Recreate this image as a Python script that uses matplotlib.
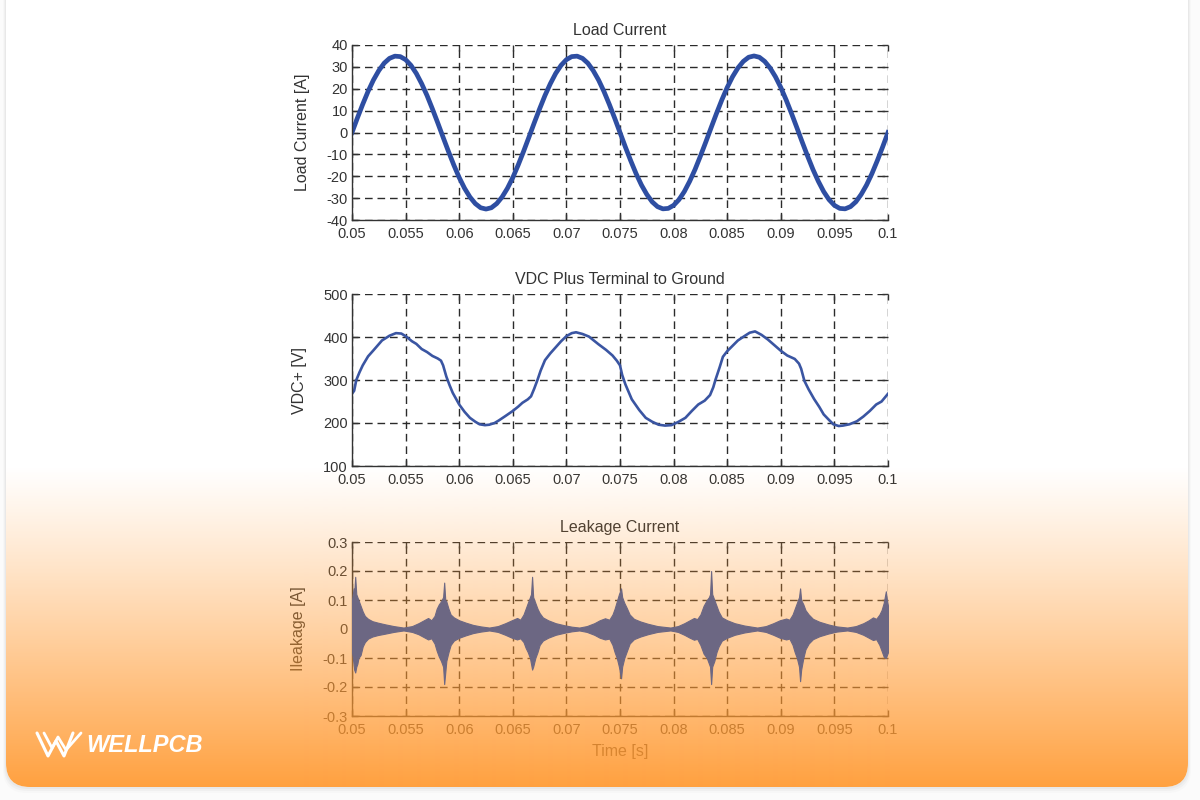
import numpy as np
import matplotlib.pyplot as plt
from matplotlib.patches import FancyBboxPatch

plt.rcParams['font.family'] = ['Liberation Sans', 'DejaVu Sans']

# ---- values ----
TIME_TICKS = [0.05, 0.055, 0.06, 0.065, 0.07, 0.075, 0.08, 0.085, 0.09, 0.095, 0.1]
TIME_LABELS = ['0.05', '0.055', '0.06', '0.065', '0.07', '0.075', '0.08', '0.085', '0.09', '0.095', '0.1']

# load current, one sample every 0.5 ms
load_t = np.round(np.arange(0.050, 0.10025, 0.0005), 4)
load_a = [0, 6.6, 12.9, 18.8, 24.0, 28.3, 31.7, 33.9, 34.9, 34.7,
          33.3, 30.7, 27.0, 22.3, 16.9, 10.8, 4.4, -2.2, -8.7, -14.9,
          -20.6, -25.5, -29.5, -32.5, -34.4, -35.0, -34.4, -32.5, -29.5, -25.5,
          -20.6, -14.9, -8.7, -2.2, 4.4, 10.8, 16.9, 22.3, 27.0, 30.7,
          33.3, 34.7, 34.9, 33.9, 31.7, 28.3, 24.0, 18.8, 12.9, 6.6,
          0, -6.6, -12.9, -18.8, -24.0, -28.3, -31.7, -33.9, -34.9, -34.7,
          -33.3, -30.7, -27.0, -22.3, -16.9, -10.8, -4.4, 2.2, 8.7, 14.9,
          20.6, 25.5, 29.5, 32.5, 34.4, 35.0, 34.4, 32.5, 29.5, 25.5,
          20.6, 14.9, 8.7, 2.2, -4.4, -10.8, -16.9, -22.3, -27.0, -30.7,
          -33.3, -34.7, -34.9, -33.9, -31.7, -28.3, -24.0, -18.8, -12.9, -6.6,
          0]
load_ticks = [-40, -30, -20, -10, 0, 10, 20, 30, 40]

# VDC plus terminal to ground
vdc_t = [0.0500, 0.0502, 0.0504, 0.0507, 0.0510, 0.0515, 0.0520, 0.0528, 0.0535, 0.0541,
         0.0546, 0.0550, 0.0556, 0.0560, 0.0565, 0.0570, 0.0575, 0.0580, 0.0583, 0.0585,
         0.0588, 0.0591, 0.0594, 0.0600, 0.0605, 0.0610, 0.0615, 0.0619, 0.0624, 0.0628,
         0.0633, 0.0637, 0.0643, 0.0650, 0.0655, 0.0659, 0.0664, 0.0667, 0.0670, 0.0673,
         0.0676, 0.0680, 0.0685, 0.0690, 0.0695, 0.0700, 0.0705, 0.0709, 0.0715, 0.0721,
         0.0725, 0.0730, 0.0737, 0.0743, 0.0747, 0.0750, 0.0752, 0.0755, 0.0761, 0.0768,
         0.0774, 0.0780, 0.0786, 0.0792, 0.0798, 0.0804, 0.0811, 0.0817, 0.0823, 0.0829,
         0.0834, 0.0837, 0.0839, 0.0843, 0.0846, 0.0850, 0.0854, 0.0860, 0.0866, 0.0871,
         0.0876, 0.0882, 0.0888, 0.0894, 0.0900, 0.0906, 0.0913, 0.0917, 0.0919, 0.0922,
         0.0926, 0.0931, 0.0936, 0.0940, 0.0945, 0.0949, 0.0954, 0.0958, 0.0964, 0.0971,
         0.0977, 0.0983, 0.0989, 0.0994, 0.1000]
vdc_v = [268, 275, 300, 318, 334, 355, 369, 392, 403, 409,
         408, 402, 390, 384, 372, 365, 356, 350, 345, 334,
         308, 288, 270, 243, 226, 212, 203, 197, 195, 196,
         200, 206, 216, 228, 238, 247, 255, 262, 280, 300,
         322, 346, 362, 376, 390, 402, 409, 411, 407, 401,
         393, 383, 370, 357, 345, 334, 312, 290, 255, 230,
         212, 203, 196, 194, 195, 202, 212, 228, 243, 252,
         265, 283, 300, 330, 354, 367, 377, 392, 402, 410,
         413, 405, 394, 381, 368, 357, 349, 338, 326, 298,
         278, 256, 237, 220, 207, 197, 193, 194, 197, 204,
         215, 228, 243, 250, 268]
vdc_ticks = [100, 200, 300, 400, 500]

# leakage current: upper / lower envelope of the dense ripple, one line per burst
leak_t = [0.0500, 0.05015, 0.0502, 0.0503, 0.0504, 0.0505, 0.0506, 0.0508, 0.0510, 0.0512, 0.0515, 0.0519, 0.0524, 0.0531, 0.0539, 0.0548,
          0.0556, 0.0562, 0.0567, 0.0571, 0.0574, 0.0577, 0.0579, 0.0581, 0.0583, 0.0585, 0.0586, 0.0587, 0.0588, 0.0590, 0.0592, 0.0595, 0.0600, 0.0606, 0.0613, 0.0620, 0.0628,
          0.0636, 0.0643, 0.0649, 0.0654, 0.0657, 0.0660, 0.0662, 0.0664, 0.0666, 0.0667, 0.0668, 0.0669, 0.0671, 0.0673, 0.0675, 0.0678, 0.0683, 0.0690, 0.0698, 0.0705, 0.0712,
          0.0719, 0.0726, 0.0731, 0.0736, 0.0740, 0.0743, 0.0745, 0.0747, 0.0749, 0.0750, 0.0751, 0.0752, 0.0754, 0.0756, 0.0759, 0.0763, 0.0769, 0.0776, 0.0785, 0.0797,
          0.0804, 0.0810, 0.0815, 0.0819, 0.0822, 0.0825, 0.0828, 0.0831, 0.0833, 0.0834, 0.0835, 0.0836, 0.0838, 0.0840, 0.0842, 0.0845, 0.0850, 0.0857, 0.0866, 0.0878,
          0.0886, 0.0893, 0.0899, 0.0905, 0.0908, 0.0911, 0.0913, 0.0915, 0.0917, 0.0918, 0.0919, 0.0921, 0.0923, 0.0926, 0.0930, 0.0936, 0.0944, 0.0952, 0.0962,
          0.0970, 0.0977, 0.0982, 0.0986, 0.0989, 0.0992, 0.0994, 0.0996, 0.0998, 0.0999, 0.1000]
leak_up = [0.10, 0.14, 0.12, 0.18, 0.12, 0.11, 0.10, 0.08, 0.06, 0.045, 0.035, 0.027, 0.022, 0.016, 0.010, 0.005,
           0.010, 0.020, 0.030, 0.038, 0.030, 0.045, 0.070, 0.085, 0.095, 0.11, 0.16, 0.10, 0.095, 0.07, 0.05, 0.040, 0.030, 0.022, 0.014, 0.009, 0.005,
           0.010, 0.020, 0.030, 0.038, 0.032, 0.050, 0.070, 0.090, 0.11, 0.12, 0.18, 0.11, 0.09, 0.07, 0.055, 0.040, 0.030, 0.020, 0.013, 0.008, 0.005,
           0.010, 0.020, 0.030, 0.037, 0.032, 0.050, 0.070, 0.095, 0.12, 0.13, 0.14, 0.11, 0.09, 0.075, 0.05, 0.035, 0.026, 0.018, 0.010, 0.005,
           0.010, 0.020, 0.030, 0.038, 0.034, 0.050, 0.080, 0.10, 0.11, 0.12, 0.20, 0.12, 0.10, 0.08, 0.06, 0.040, 0.030, 0.020, 0.012, 0.005,
           0.010, 0.020, 0.030, 0.036, 0.032, 0.050, 0.070, 0.090, 0.11, 0.14, 0.10, 0.085, 0.065, 0.05, 0.035, 0.025, 0.016, 0.009, 0.005,
           0.010, 0.020, 0.030, 0.040, 0.035, 0.050, 0.065, 0.090, 0.13, 0.10, 0.08]
leak_lo = [-0.08, -0.12, -0.14, -0.15, -0.13, -0.12, -0.10, -0.09, -0.06, -0.045, -0.033, -0.026, -0.021, -0.016, -0.010, -0.005,
           -0.010, -0.018, -0.028, -0.036, -0.032, -0.050, -0.075, -0.095, -0.11, -0.13, -0.19, -0.15, -0.11, -0.08, -0.055, -0.040, -0.030, -0.022, -0.014, -0.009, -0.005,
           -0.010, -0.020, -0.030, -0.036, -0.032, -0.045, -0.065, -0.080, -0.10, -0.12, -0.14, -0.13, -0.10, -0.08, -0.055, -0.040, -0.030, -0.020, -0.013, -0.008, -0.005,
           -0.010, -0.020, -0.030, -0.036, -0.033, -0.055, -0.080, -0.10, -0.13, -0.15, -0.17, -0.13, -0.10, -0.08, -0.05, -0.035, -0.026, -0.018, -0.010, -0.005,
           -0.010, -0.020, -0.030, -0.037, -0.034, -0.055, -0.085, -0.10, -0.12, -0.13, -0.19, -0.13, -0.11, -0.08, -0.06, -0.040, -0.030, -0.020, -0.012, -0.005,
           -0.010, -0.020, -0.030, -0.036, -0.033, -0.055, -0.080, -0.10, -0.13, -0.18, -0.14, -0.10, -0.07, -0.05, -0.035, -0.025, -0.016, -0.009, -0.005,
           -0.010, -0.020, -0.030, -0.038, -0.035, -0.055, -0.075, -0.095, -0.10, -0.09, -0.08]
leak_ticks = [-0.3, -0.2, -0.1, 0, 0.1, 0.2, 0.3]
leak_labels = ['-0.3', '-0.2', '-0.1', '0', '0.1', '0.2', '0.3']

assert len(load_t) == len(load_a)
assert len(vdc_t) == len(vdc_v)
assert len(leak_t) == len(leak_up) == len(leak_lo)

TXT = '#333333'
ORANGE = (1.0, 0.60, 0.19)


def style_axes(ax, yticks, ylabels, ylim):
    ax.set_facecolor('none')
    ax.set_xlim(0.05, 0.1)
    ax.set_ylim(*ylim)
    ax.set_xticks(TIME_TICKS)
    ax.set_xticklabels(TIME_LABELS)
    ax.set_yticks(yticks)
    ax.set_yticklabels(ylabels)
    ax.grid(True, color='#2b2b2b', linestyle=(0, (5.5, 3.5)), linewidth=1)
    ax.tick_params(direction='in', length=4, width=1, top=True, right=True,
                   labelsize=10.5, colors=TXT)
    ax.tick_params(axis='x', pad=5)
    ax.tick_params(axis='y', pad=3)
    for s in ['top', 'right']:
        ax.spines[s].set_visible(False)
    for s in ['left', 'bottom']:
        ax.spines[s].set_color(TXT)
        ax.spines[s].set_linewidth(1)


fig = plt.figure(figsize=(12, 8), dpi=100, facecolor='#fbfbfb')

# card background (pixel coords, y down)
bg = fig.add_axes([0, 0, 1, 1], zorder=-1)
bg.set_xlim(0, 1200)
bg.set_ylim(800, 0)
bg.axis('off')
for k, a in [(6, 0.03), (4, 0.05), (2, 0.07)]:
    bg.add_patch(FancyBboxPatch((6 - k / 2, -30), 1182 + k, 817 + k,
                                boxstyle='round,pad=0,rounding_size=24',
                                fc='#808080', ec='none', alpha=a))
bg.add_patch(FancyBboxPatch((6, -30), 1182, 817, boxstyle='round,pad=0,rounding_size=24',
                            fc='white', ec='none'))

# plot panels
ax1 = fig.add_axes([352 / 1200, 1 - 220 / 800, 536 / 1200, 175 / 800], zorder=1)
ax2 = fig.add_axes([352 / 1200, 1 - 466 / 800, 536 / 1200, 172 / 800], zorder=1)
ax3 = fig.add_axes([352 / 1200, 1 - 716 / 800, 536 / 1200, 174 / 800], zorder=1)

ax1.plot(load_t, load_a, color='#2E4EA2', lw=3.4, solid_joinstyle='round')
style_axes(ax1, load_ticks, [str(v) for v in load_ticks], (-40, 40))
ax1.set_title('Load Current', fontsize=11.5, color=TXT, pad=7)
ax1.set_ylabel('Load Current [A]', fontsize=11.5, color=TXT)
ax1.yaxis.set_label_coords(-0.078, 0.5)

ax2.plot(vdc_t, vdc_v, color='#3A55A2', lw=1.9, solid_joinstyle='round')
style_axes(ax2, vdc_ticks, [str(v) for v in vdc_ticks], (100, 500))
ax2.set_title('VDC Plus Terminal to Ground', fontsize=11.5, color=TXT, pad=7)
ax2.set_ylabel('VDC+ [V]', fontsize=11.5, color=TXT)
ax2.yaxis.set_label_coords(-0.084, 0.5)

style_axes(ax3, leak_ticks, leak_labels, (-0.3, 0.3))
ax3.set_title('Leakage Current', fontsize=11.5, color=TXT, pad=7)
ax3.set_ylabel('Ileakage [A]', fontsize=11.5, color=TXT)
ax3.yaxis.set_label_coords(-0.086, 0.5)
ax3.set_xlabel('Time [s]', fontsize=11.5, color=TXT)
ax3.xaxis.set_label_coords(0.5, -0.16)

# orange gradient wash over the lower part of the card
ov = fig.add_axes([0, 0, 1, 1], zorder=2)
ov.set_xlim(0, 1200)
ov.set_ylim(800, 0)
ov.axis('off')
ov.set_facecolor('none')
rows = np.arange(800)
alpha = np.clip((rows - 465) / 322.0, 0, 1) ** 1.1 * 0.93
grad = np.zeros((800, 1, 4))
grad[:, 0, :3] = ORANGE
grad[:, 0, 3] = alpha
clip = FancyBboxPatch((6, -30), 1182, 817, boxstyle='round,pad=0,rounding_size=24',
                      fc='none', ec='none')
ov.add_patch(clip)
im = ov.imshow(grad, extent=[0, 1200, 800, 0], aspect='auto', interpolation='bilinear')
im.set_clip_path(clip)

# leakage signal drawn above the wash
ax3f = fig.add_axes(ax3.get_position(), zorder=3)
ax3f.set_facecolor('none')
ax3f.fill_between(leak_t, leak_lo, leak_up, color='#6C6783', lw=0.8)
ax3f.set_xlim(0.05, 0.1)
ax3f.set_ylim(-0.3, 0.3)
ax3f.axis('off')

# logo
top = fig.add_axes([0, 0, 1, 1], zorder=4)
top.set_xlim(0, 1200)
top.set_ylim(800, 0)
top.axis('off')
top.set_facecolor('none')
top.plot([37, 48, 56, 64, 73], [733, 756, 741, 756, 733], color='white', lw=2.2,
         solid_joinstyle='round', solid_capstyle='round')
top.plot([44, 52, 58, 66, 81], [733, 748, 737, 750, 733], color='white', lw=2.0,
         solid_joinstyle='round', solid_capstyle='round')
top.text(86, 746, 'WELLPCB', color='white', fontsize=17, fontweight='bold',
         fontstyle='italic', ha='left', va='center')

fig.savefig('out.png', dpi=100, facecolor=fig.get_facecolor())
